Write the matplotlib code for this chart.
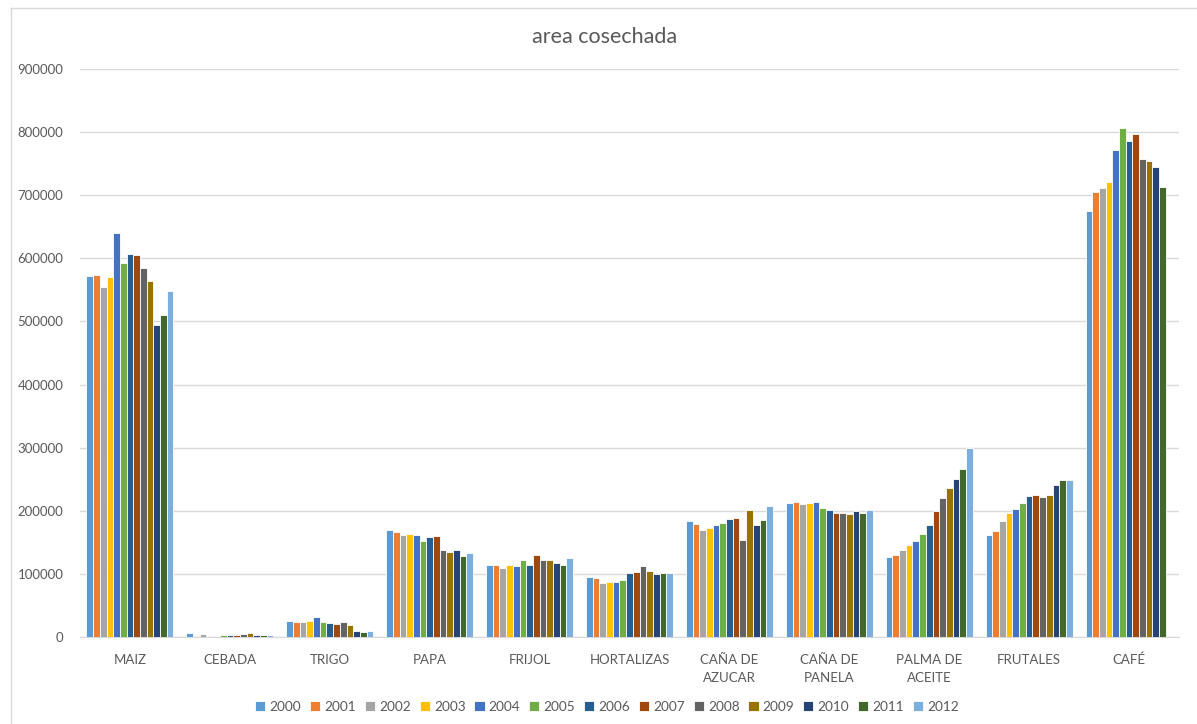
import numpy as np
import matplotlib
matplotlib.use("Agg")
import matplotlib.pyplot as plt
from matplotlib.lines import Line2D

categorias = ["MAIZ", "CEBADA", "TRIGO", "PAPA", "FRIJOL", "HORTALIZAS",
              "CAÑA DE\nAZUCAR", "CAÑA DE\nPANELA", "PALMA DE\nACEITE",
              "FRUTALES", "CAFÉ"]
anios = ["2000", "2001", "2002", "2003", "2004", "2005", "2006",
         "2007", "2008", "2009", "2010", "2011", "2012"]

# area cosechada por año (una lista por cultivo, 2000..2012)
maiz = [572000, 574000, 554000, 571000, 640000, 593000, 607000, 605000, 585000, 564000, 495000, 510000, 549000]
cebada = [6300, 2000, 4200, 500, 500, 2600, 2600, 2600, 4800, 6900, 2500, 2500, 2500]
trigo = [26000, 24000, 24000, 26000, 32000, 24000, 22000, 20000, 24000, 18500, 10000, 8000, 10000]
papa = [169600, 165900, 161600, 163800, 161600, 151600, 158000, 160000, 137900, 134200, 137900, 128400, 132600]
frijol = [114600, 114600, 108800, 114600, 112500, 122600, 114600, 130500, 122600, 122600, 116700, 114600, 124700]
hortalizas = [95100, 93000, 85000, 87200, 87200, 90900, 100900, 103000, 112500, 104600, 99300, 100900, 100900]
cana_azucar = [183300, 179100, 169600, 173300, 177000, 181200, 187000, 189100, 153700, 201300, 177000, 185400, 207100]
cana_panela = [212400, 214500, 210800, 212400, 214500, 205000, 200700, 197000, 197000, 194900, 199200, 197000, 200700]
palma = [126300, 130000, 137900, 145800, 151600, 163800, 177500, 199200, 220300, 236100, 249900, 265700, 299000]
frutales = [161600, 168000, 183800, 197000, 202900, 212900, 222900, 224500, 222400, 224500, 240400, 248300, 248300]
cafe = [675600, 705200, 711000, 721100, 771800, 806700, 785500, 797100, 758000, 753800, 744300, 712600, 0]

colores = ["#5B9BD5", "#ED7D31", "#A5A5A5", "#FFC000", "#4472C4", "#70AD47",
           "#255E91", "#9E480E", "#636363", "#997300", "#264478", "#43682B",
           "#7CAFDD"]

datos = np.array([maiz, cebada, trigo, papa, frijol, hortalizas, cana_azucar,
                  cana_panela, palma, frutales, cafe])

plt.rcParams['font.family'] = ['Lato', 'DejaVu Sans']
gris = "#595959"

fig = plt.figure(figsize=(11.97, 7.24), dpi=100)
ax = fig.add_axes([80 / 1197, 1 - 637 / 724, 1099 / 1197, 568 / 724])

x = np.arange(len(categorias))
ancho = 0.067
for i, anio in enumerate(anios):
    pos = x - ancho * 6 + i * ancho
    ax.bar(pos, datos[:, i], width=ancho, color=colores[i], label=anio,
           edgecolor="white", linewidth=0.6, zorder=3)

ax.set_xlim(-0.5, len(categorias) - 0.5)
ax.set_ylim(0, 900000)
ax.set_yticks(np.arange(0, 900001, 100000))
ax.set_yticklabels([str(v) for v in range(0, 900001, 100000)])
ax.yaxis.grid(True, color="#D9D9D9", linewidth=1, zorder=0)
ax.set_xticks(x)
ax.set_xticklabels(categorias, linespacing=1.6)
ax.tick_params(axis="both", length=0, colors=gris, labelsize=9.5)
ax.tick_params(axis="x", pad=12)
ax.tick_params(axis="y", pad=12)
for s in ["top", "right", "left"]:
    ax.spines[s].set_visible(False)
ax.spines["bottom"].set_color("#D9D9D9")

fig.text(0.505, 1 - 37 / 724, "area cosechada", ha="center", va="center",
         fontsize=15.5, color=gris)

ax.legend(loc="center", bbox_to_anchor=((607 - 80) / 1099, (637 - 707) / 568),
          ncol=13, frameon=False, handlelength=0.75, handleheight=0.75,
          handletextpad=0.3, columnspacing=0.65, fontsize=9.8,
          labelcolor=gris)

# marco del gráfico
fig.add_artist(Line2D([11 / 1197, 1], [1 - 8 / 724, 1 - 8 / 724],
                      color="#D9D9D9", linewidth=1))
fig.add_artist(Line2D([11 / 1197, 11 / 1197], [0, 1 - 8 / 724],
                      color="#D9D9D9", linewidth=1))

fig.savefig("out.png", dpi=100)
